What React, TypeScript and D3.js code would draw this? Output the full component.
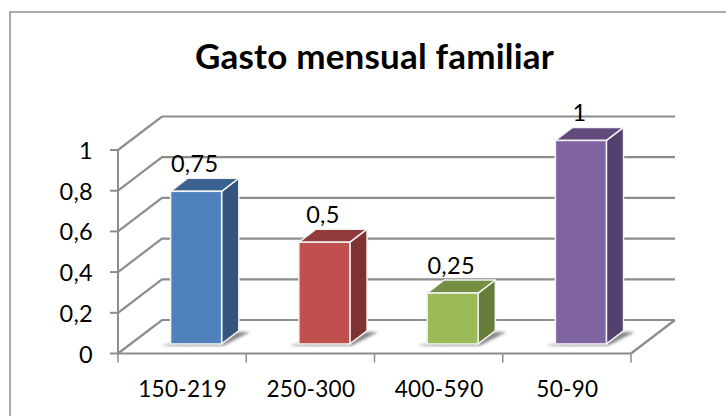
import React from "react";
import * as d3 from "d3";

const categories = ["150-219", "250-300", "400-590", "50-90"];
const values = [0.75, 0.5, 0.25, 1];
const valueLabels = ["0,75", "0,5", "0,25", "1"];
const axisTicks = [0, 0.2, 0.4, 0.6, 0.8, 1];
const axisTickLabels = ["0", "0,2", "0,4", "0,6", "0,8", "1"];
const frontColors = ["#4f81bd", "#c0504d", "#9bbb59", "#8064a2"];
const sideColors = ["#33547c", "#7e3331", "#667c39", "#54406c"];
const topColors = ["#3c628f", "#913c3a", "#748e43", "#614b7c"];

const W = 726;
const H = 416;
const FONT = "Lato, 'Open Sans', sans-serif";
const GRID = "#8c8c8c";

// 3D box layout: the floor recedes from the front axis to the back wall.
const depthX = 44;
const depthY = -33.5;
const barNear = 0.285;
const barFar = 0.675;
const barShift = 14;

const y = d3.scaleLinear().domain([0, 1]).range([353.5, 150]);
const x = d3.scaleBand<string>().domain(categories).range([118, 631]).paddingInner(0).paddingOuter(0);
const barWidth = 51;

const poly = (pts: [number, number][]) => pts.map((p) => p.join(",")).join(" ");

export default function App() {
  const floorLeft = x.range()[0];
  const floorRight = x.range()[1];
  const tickXs = [...categories.map((c) => x(c) as number), floorRight];
  return (
    <svg
      width={W}
      height={H}
      style={{ position: "absolute", left: 0, top: 0, background: "#fff" }}
      fontFamily={FONT}
    >
      <defs>
        <filter id="floorShadow" x="-20%" y="-50%" width="140%" height="200%">
          <feGaussianBlur stdDeviation="1.6" />
        </filter>
      </defs>

      <path d={`M10 ${H}V12H${W}`} fill="none" stroke="#8e8e8e" strokeWidth={1.5} />

      <text
        x={374.5}
        y={69}
        textAnchor="middle"
        fontSize={35}
        fontWeight={700}
        letterSpacing={0.2}
        fill="#000"
      >
        Gasto mensual familiar
      </text>

      {/* Side wall and back wall gridlines */}
      {axisTicks.map((t) => (
        <path
          key={t}
          d={`M${floorLeft} ${y(t)}l${depthX} ${depthY}H${floorRight + depthX}`}
          fill="none"
          stroke={GRID}
          strokeWidth={2.2}
        />
      ))}
      <path
        d={`M${floorRight + depthX} ${y(0) + depthY}L${floorRight} ${y(0)}`}
        fill="none"
        stroke={GRID}
        strokeWidth={2.2}
      />

      {/* Value axis */}
      <path d={`M${floorLeft} ${y(1)}V${y(0)}`} fill="none" stroke={GRID} strokeWidth={2} />
      {axisTicks.map((t, i) => (
        <g key={t}>
          <line x1={floorLeft - 8} x2={floorLeft} y1={y(t)} y2={y(t)} stroke={GRID} strokeWidth={2} />
          <text x={93} y={y(t) + 9} textAnchor="end" fontSize={23.5} letterSpacing={0.3} fill="#000">
            {axisTickLabels[i]}
          </text>
        </g>
      ))}

      {/* Category axis */}
      <path d={`M${floorLeft} ${y(0)}H${floorRight}`} fill="none" stroke={GRID} strokeWidth={2.2} />
      {tickXs.map((tx) => (
        <line key={tx} x1={tx} x2={tx} y1={y(0)} y2={y(0) + 9} stroke={GRID} strokeWidth={1.5} />
      ))}
      {categories.map((c) => (
        <text
          key={c}
          x={(x(c) as number) + x.bandwidth() / 2 + 0.5}
          y={397}
          textAnchor="middle"
          fontSize={22.5}
          letterSpacing={0.3}
          fill="#000"
        >
          {c}
        </text>
      ))}

      {/* Bars */}
      {categories.map((c, i) => {
        const band = x(c) as number;
        const left = band + (x.bandwidth() - barWidth) / 2 + barShift;
        const right = left + barWidth;
        const dx = depthX * (barFar - barNear);
        const dy = depthY * (barFar - barNear);
        const base = y(0) + depthY * barNear;
        const top = y(values[i]) + depthY * barNear;
        return (
          <g key={c}>
            <polygon
              points={poly([
                [left - 10, base + 1.5],
                [right + 2, base + 1.5],
                [right + dx + 11, base + dy + 1],
                [right + dx - 2, base + dy + 1],
              ])}
              fill="#7a7a7a"
              opacity={0.9}
              filter="url(#floorShadow)"
            />
            <polygon
              points={poly([
                [right, top],
                [right + dx, top + dy],
                [right + dx, base + dy],
                [right, base],
              ])}
              fill={sideColors[i]}
              stroke="#f2f2f2"
              strokeWidth={1.5}
              strokeLinejoin="round"
            />
            <polygon
              points={poly([
                [left, top],
                [left + dx, top + dy],
                [right + dx, top + dy],
                [right, top],
              ])}
              fill={topColors[i]}
              stroke="#f2f2f2"
              strokeWidth={1.5}
              strokeLinejoin="round"
            />
            <rect
              x={left}
              y={top}
              width={barWidth}
              height={base - top}
              fill={frontColors[i]}
              stroke="#f2f2f2"
              strokeWidth={1.5}
            />
            <text
              x={left + barWidth / 2 - 1.5}
              y={top - 19.5}
              textAnchor="middle"
              fontSize={23.5}
              letterSpacing={0.3}
              fill="#000"
            >
              {valueLabels[i]}
            </text>
          </g>
        );
      })}
    </svg>
  );
}
